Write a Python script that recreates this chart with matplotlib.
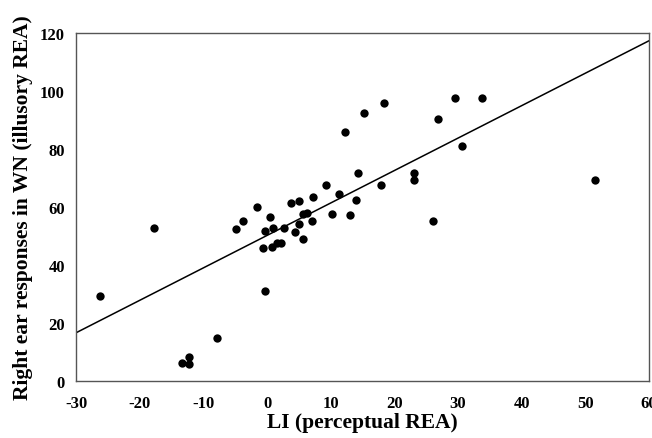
import numpy as np
import matplotlib.pyplot as plt

# LI (perceptual REA) vs right ear responses in WN (illusory REA)
li = [-26.3, -17.7, -13.4, -12.3, -12.2, -7.8, -4.8, -3.8, -1.6, -0.3,
      -0.6, -0.3, 0.5, 0.9, 0.7, 1.6, 2.2, 2.7, 3.7, 5.0,
      4.4, 5.0, 5.7, 6.3, 5.7, 7.0, 7.2, 9.3, 10.2, 11.3,
      12.3, 13.1, 14.0, 14.3, 15.3, 18.3, 17.9, 23.0, 23.0, 26.1,
      26.9, 29.5, 30.6, 33.8, 51.5]
wn = [29.3, 52.9, 6.3, 8.2, 5.7, 14.7, 52.3, 55.2, 59.9, 51.8,
      45.9, 31.1, 56.4, 52.8, 46.1, 47.5, 47.5, 52.8, 61.4, 62.2,
      51.5, 54.0, 57.5, 57.9, 49.1, 55.2, 63.4, 67.5, 57.5, 64.6,
      85.7, 57.4, 62.3, 71.7, 92.4, 95.9, 67.5, 71.7, 69.3, 55.2,
      90.4, 97.6, 81.0, 97.6, 69.3]

# regression line
slope = 1.119
intercept = 50.2

xticks = [-30, -20, -10, 0, 10, 20, 30, 40, 50, 60]
yticks = [0, 20, 40, 60, 80, 100, 120]

plt.rcParams['font.family'] = ['Liberation Serif', 'DejaVu Serif']
plt.rcParams['font.weight'] = 'bold'
plt.rcParams['axes.unicode_minus'] = False

fig = plt.figure(figsize=(6.52, 4.39), dpi=100)
ax = fig.add_axes([0.1166, 0.1298, 0.879, 0.7928])

ax.scatter(li, wn, s=36, color='black', zorder=3, linewidths=0)
xs = np.array([-30, 60])
ax.plot(xs, slope * xs + intercept, color='black', lw=1.1)

ax.set_xlim(-30, 60)
ax.set_ylim(0, 120)
ax.set_xticks(xticks)
ax.set_yticks(yticks)
ax.tick_params(length=0, labelsize=12)
ax.tick_params(axis='x', pad=10)
ax.tick_params(axis='y', pad=8)
for lab in ax.get_xticklabels() + ax.get_yticklabels():
    lab.set_fontweight('bold')
for sp in ax.spines.values():
    sp.set_color('#555555')
    sp.set_linewidth(1.0)

ax.set_xlabel('LI (perceptual REA)', fontsize=15.5, fontweight='bold', labelpad=1)
ax.set_ylabel('Right ear responses in WN (illusory REA)', fontsize=15.5,
              fontweight='bold', labelpad=5)

fig.savefig('out.png', dpi=100)
